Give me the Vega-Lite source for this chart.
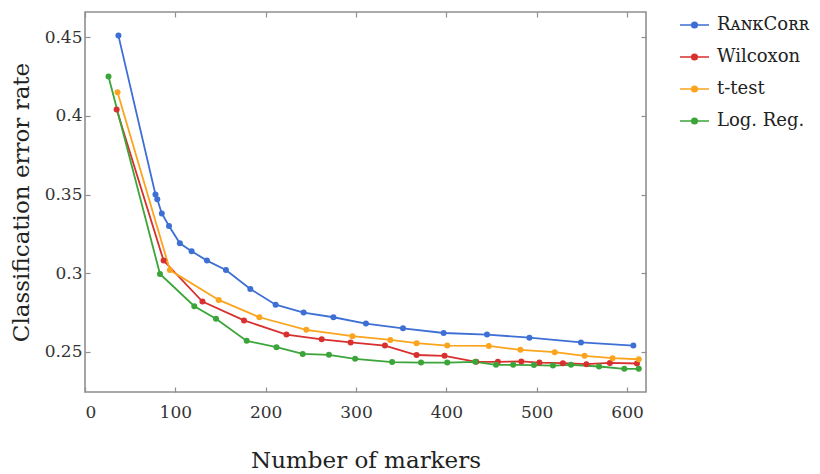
{
  "$schema": "https://vega.github.io/schema/vega-lite/v6.json",
  "width": 561,
  "height": 380,
  "autosize": "none",
  "padding": {"left": 85, "top": 12, "right": 174, "bottom": 82},
  "config": {
    "font": "DejaVu Serif",
    "view": {"stroke": "#8f8f8f", "strokeWidth": 1.6},
    "axis": {
      "domain": false,
      "grid": false,
      "tickColor": "#8f8f8f",
      "tickWidth": 1.2,
      "tickSize": -5,
      "labelFont": "DejaVu Serif",
      "labelFontSize": 17,
      "labelColor": "#333333",
      "titleFont": "DejaVu Serif",
      "titleFontSize": 23,
      "titleFontWeight": "normal",
      "titleColor": "#222222"
    }
  },
  "datasets": {
    "errors": [
      {"n": 37, "err": 0.451, "method": "RᴀɴᴋCᴏʀʀ"},
      {"n": 78, "err": 0.350, "method": "RᴀɴᴋCᴏʀʀ"},
      {"n": 80, "err": 0.347, "method": "RᴀɴᴋCᴏʀʀ"},
      {"n": 85, "err": 0.338, "method": "RᴀɴᴋCᴏʀʀ"},
      {"n": 93, "err": 0.330, "method": "RᴀɴᴋCᴏʀʀ"},
      {"n": 105, "err": 0.319, "method": "RᴀɴᴋCᴏʀʀ"},
      {"n": 118, "err": 0.314, "method": "RᴀɴᴋCᴏʀʀ"},
      {"n": 135, "err": 0.308, "method": "RᴀɴᴋCᴏʀʀ"},
      {"n": 156, "err": 0.302, "method": "RᴀɴᴋCᴏʀʀ"},
      {"n": 183, "err": 0.290, "method": "RᴀɴᴋCᴏʀʀ"},
      {"n": 211, "err": 0.280, "method": "RᴀɴᴋCᴏʀʀ"},
      {"n": 242, "err": 0.275, "method": "RᴀɴᴋCᴏʀʀ"},
      {"n": 275, "err": 0.272, "method": "RᴀɴᴋCᴏʀʀ"},
      {"n": 311, "err": 0.268, "method": "RᴀɴᴋCᴏʀʀ"},
      {"n": 352, "err": 0.265, "method": "RᴀɴᴋCᴏʀʀ"},
      {"n": 397, "err": 0.262, "method": "RᴀɴᴋCᴏʀʀ"},
      {"n": 445, "err": 0.261, "method": "RᴀɴᴋCᴏʀʀ"},
      {"n": 492, "err": 0.259, "method": "RᴀɴᴋCᴏʀʀ"},
      {"n": 549, "err": 0.256, "method": "RᴀɴᴋCᴏʀʀ"},
      {"n": 607, "err": 0.254, "method": "RᴀɴᴋCᴏʀʀ"},

      {"n": 35, "err": 0.404, "method": "Wilcoxon"},
      {"n": 87, "err": 0.308, "method": "Wilcoxon"},
      {"n": 130, "err": 0.282, "method": "Wilcoxon"},
      {"n": 176, "err": 0.270, "method": "Wilcoxon"},
      {"n": 223, "err": 0.261, "method": "Wilcoxon"},
      {"n": 262, "err": 0.258, "method": "Wilcoxon"},
      {"n": 294, "err": 0.256, "method": "Wilcoxon"},
      {"n": 332, "err": 0.254, "method": "Wilcoxon"},
      {"n": 367, "err": 0.248, "method": "Wilcoxon"},
      {"n": 398, "err": 0.2475, "method": "Wilcoxon"},
      {"n": 433, "err": 0.2437, "method": "Wilcoxon"},
      {"n": 457, "err": 0.2437, "method": "Wilcoxon"},
      {"n": 483, "err": 0.2439, "method": "Wilcoxon"},
      {"n": 503, "err": 0.2432, "method": "Wilcoxon"},
      {"n": 529, "err": 0.2428, "method": "Wilcoxon"},
      {"n": 555, "err": 0.2422, "method": "Wilcoxon"},
      {"n": 581, "err": 0.2430, "method": "Wilcoxon"},
      {"n": 611, "err": 0.2426, "method": "Wilcoxon"},

      {"n": 36, "err": 0.415, "method": "t-test"},
      {"n": 94, "err": 0.302, "method": "t-test"},
      {"n": 148, "err": 0.283, "method": "t-test"},
      {"n": 193, "err": 0.272, "method": "t-test"},
      {"n": 245, "err": 0.264, "method": "t-test"},
      {"n": 296, "err": 0.260, "method": "t-test"},
      {"n": 338, "err": 0.2576, "method": "t-test"},
      {"n": 367, "err": 0.2555, "method": "t-test"},
      {"n": 401, "err": 0.254, "method": "t-test"},
      {"n": 447, "err": 0.2538, "method": "t-test"},
      {"n": 482, "err": 0.2513, "method": "t-test"},
      {"n": 520, "err": 0.2498, "method": "t-test"},
      {"n": 553, "err": 0.2475, "method": "t-test"},
      {"n": 584, "err": 0.246, "method": "t-test"},
      {"n": 613, "err": 0.2453, "method": "t-test"},

      {"n": 26, "err": 0.425, "method": "Log. Reg."},
      {"n": 83, "err": 0.2995, "method": "Log. Reg."},
      {"n": 121, "err": 0.279, "method": "Log. Reg."},
      {"n": 145, "err": 0.271, "method": "Log. Reg."},
      {"n": 179, "err": 0.257, "method": "Log. Reg."},
      {"n": 212, "err": 0.253, "method": "Log. Reg."},
      {"n": 241, "err": 0.2487, "method": "Log. Reg."},
      {"n": 270, "err": 0.2481, "method": "Log. Reg."},
      {"n": 299, "err": 0.2456, "method": "Log. Reg."},
      {"n": 340, "err": 0.2435, "method": "Log. Reg."},
      {"n": 372, "err": 0.2432, "method": "Log. Reg."},
      {"n": 401, "err": 0.2432, "method": "Log. Reg."},
      {"n": 432, "err": 0.2437, "method": "Log. Reg."},
      {"n": 455, "err": 0.2418, "method": "Log. Reg."},
      {"n": 474, "err": 0.2418, "method": "Log. Reg."},
      {"n": 497, "err": 0.2416, "method": "Log. Reg."},
      {"n": 518, "err": 0.2413, "method": "Log. Reg."},
      {"n": 538, "err": 0.2418, "method": "Log. Reg."},
      {"n": 569, "err": 0.2407, "method": "Log. Reg."},
      {"n": 597, "err": 0.2392, "method": "Log. Reg."},
      {"n": 613, "err": 0.2392, "method": "Log. Reg."}
    ]
  },
  "data": {"name": "errors"},
  "resolve": {"axis": {"x": "independent", "y": "independent"}},
  "layer": [
    {
      "mark": {"type": "line", "strokeWidth": 1.8, "point": {"filled": true, "size": 36}},
      "encoding": {
        "x": {
          "field": "n", "type": "quantitative",
          "scale": {"domain": [0, 621], "nice": false, "zero": false},
          "axis": {"orient": "bottom", "values": [0, 100, 200, 300, 400, 500, 600], "labelPadding": 17, "title": "Number of markers", "titlePadding": 29}
        },
        "y": {
          "field": "err", "type": "quantitative",
          "scale": {"domain": [0.2245, 0.466], "nice": false, "zero": false},
          "axis": {"orient": "left", "values": [0.25, 0.3, 0.35, 0.4, 0.45], "format": "~g", "labelPadding": 8, "title": "Classification error rate", "titlePadding": 11}
        },
        "color": {
          "field": "method", "type": "nominal",
          "scale": {
            "domain": ["RᴀɴᴋCᴏʀʀ", "Wilcoxon", "t-test", "Log. Reg."],
            "range": ["#3d6fd4", "#d8302e", "#fba41e", "#3ba53a"]
          },
          "legend": {
            "title": null,
            "orient": "none",
            "legendX": 594,
            "legendY": -3,
            "symbolType": "M-1,0H1M-0.19,0A0.19,0.19 0 1,0 0.19,0A0.19,0.19 0 1,0 -0.19,0Z",
            "symbolSize": 841,
            "symbolStrokeWidth": 1.6,
            "clipHeight": 32,
            "rowPadding": 0,
            "labelFont": "DejaVu Serif",
            "labelFontSize": 18,
            "labelColor": "#222222",
            "labelOffset": 7,
            "encode": {
              "symbols": {"update": {"fill": {"scale": "color", "field": "value"}}}
            }
          }
        }
      }
    },
    {
      "mark": {"type": "line", "opacity": 0},
      "encoding": {
        "x": {
          "field": "n", "type": "quantitative",
          "axis": {"orient": "top", "values": [0, 100, 200, 300, 400, 500, 600], "labels": false, "title": null}
        },
        "y": {
          "field": "err", "type": "quantitative",
          "axis": {"orient": "right", "values": [0.25, 0.3, 0.35, 0.4, 0.45], "labels": false, "title": null}
        },
        "detail": {"field": "method"}
      }
    }
  ]
}
